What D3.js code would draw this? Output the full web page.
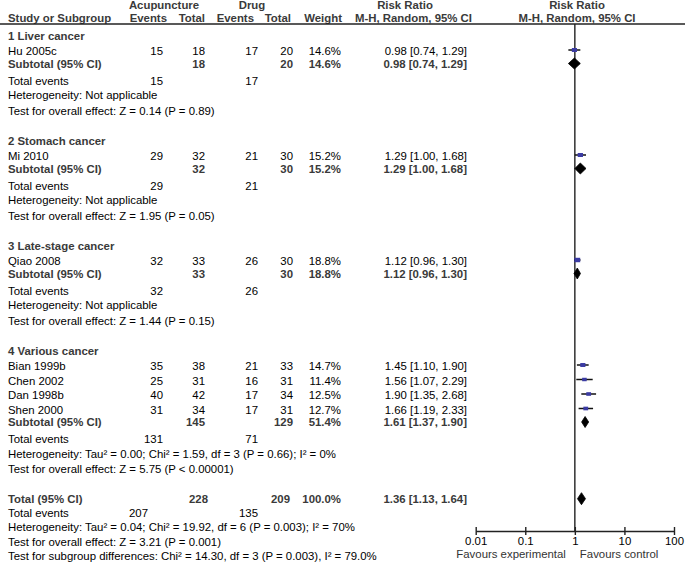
<!DOCTYPE html>
<html>
<head>
<meta charset="utf-8">
<script src="https://cdn.jsdelivr.net/npm/d3@7"></script>
<style>
  html, body { margin: 0; padding: 0; background: #fff; }
  svg { display: block; font-family: "Liberation Sans", Arial, sans-serif; }
</style>
</head>
<body>
<svg id="chart" width="685" height="570"></svg>
<script>
// ---------------- DATA ----------------
const groupNames = ["1 Liver cancer", "2 Stomach cancer", "3 Late-stage cancer", "4 Various cancer"];

const studyNames  = ["Hu 2005c", "Mi 2010", "Qiao 2008", "Bian 1999b", "Chen 2002", "Dan 1998b", "Shen 2000"];
const studyGroup  = [0, 1, 2, 3, 3, 3, 3];
const acuEvents   = [15, 29, 32, 35, 25, 40, 31];
const acuTotal    = [18, 32, 33, 38, 31, 42, 34];
const drugEvents  = [17, 21, 26, 21, 16, 17, 17];
const drugTotal   = [20, 30, 30, 33, 31, 34, 31];
const studyWeight = [14.6, 15.2, 18.8, 14.7, 11.4, 12.5, 12.7];
const studyRR     = [0.98, 1.29, 1.12, 1.45, 1.56, 1.90, 1.66];
const studyLo     = [0.74, 1.00, 0.96, 1.10, 1.07, 1.35, 1.19];
const studyHi     = [1.29, 1.68, 1.30, 1.90, 2.29, 2.68, 2.33];

const subAcuTotal   = [18, 32, 33, 145];
const subDrugTotal  = [20, 30, 30, 129];
const subAcuEvents  = [15, 29, 32, 131];
const subDrugEvents = [17, 21, 26, 71];
const subWeight     = [14.6, 15.2, 18.8, 51.4];
const subRR         = [0.98, 1.29, 1.12, 1.61];
const subLo         = [0.74, 1.00, 0.96, 1.37];
const subHi         = [1.29, 1.68, 1.30, 1.90];
const subHeterogeneity = ["Not applicable", "Not applicable", "Not applicable",
  "Tau\u00B2 = 0.00; Chi\u00B2 = 1.59, df = 3 (P = 0.66); I\u00B2 = 0%"];
const subOverall = ["Z = 0.14 (P = 0.89)", "Z = 1.95 (P = 0.05)", "Z = 1.44 (P = 0.15)", "Z = 5.75 (P < 0.00001)"];

const totalAcuTotal = 228, totalDrugTotal = 209, totalWeight = 100.0;
const totalAcuEvents = 207, totalDrugEvents = 135;
const totalRR = 1.36, totalLo = 1.13, totalHi = 1.64;
const totalHeterogeneity = "Tau\u00B2 = 0.04; Chi\u00B2 = 19.92, df = 6 (P = 0.003); I\u00B2 = 70%";
const totalOverall = "Z = 3.21 (P = 0.001)";
const subgroupDiff = "Chi\u00B2 = 14.30, df = 3 (P = 0.003), I\u00B2 = 79.0%";

const axisTicks = [0.01, 0.1, 1, 10, 100];
const favoursLeft = "Favours experimental";
const favoursRight = "Favours control";

// ---------------- LAYOUT ----------------
const svg = d3.select("#chart");
svg.append("rect").attr("width", 685).attr("height", 570).attr("fill", "#fff");

const FS = 11.4;
const boldCol = "#3a3a3a";
const xText = 8;
const colAcuEv = 163, colAcuTot = 205, colDrugEv = 258, colDrugTot = 293, colWeight = 341, colRR = 467;
const x = d3.scaleLog().domain([0.01, 100]).range([475.7, 674]);
const axisY = 531;
const headerLineY = 24;

function fmtRR(r, l, h) { return r.toFixed(2) + " [" + l.toFixed(2) + ", " + h.toFixed(2) + "]"; }

function txt(xp, yp, s, opts = {}) {
  return svg.append("text")
    .attr("x", xp).attr("y", yp)
    .attr("font-size", opts.size || FS)
    .attr("font-weight", opts.bold ? "bold" : "normal")
    .attr("fill", opts.fill || (opts.bold ? boldCol : "#000"))
    .attr("text-anchor", opts.anchor || "start")
    .text(s);
}

// Header
txt(164, 8.5, "Acupuncture", {bold: true, anchor: "middle"});
txt(252, 8.5, "Drug", {bold: true, anchor: "middle"});
txt(405, 8.5, "Risk Ratio", {bold: true, anchor: "middle"});
txt(577, 8.5, "Risk Ratio", {bold: true, anchor: "middle"});
const h2 = 21.5;
txt(xText, h2, "Study or Subgroup", {bold: true});
txt(167, h2, "Events", {bold: true, anchor: "end"});
txt(205, h2, "Total", {bold: true, anchor: "end"});
txt(254, h2, "Events", {bold: true, anchor: "end"});
txt(291, h2, "Total", {bold: true, anchor: "end"});
txt(342, h2, "Weight", {bold: true, anchor: "end"});
txt(472, h2, "M-H, Random, 95% CI", {bold: true, anchor: "end"});
txt(577, h2, "M-H, Random, 95% CI", {bold: true, anchor: "middle"});

svg.append("line").attr("x1", 0).attr("x2", 685)
  .attr("y1", headerLineY).attr("y2", headerLineY)
  .attr("stroke", "#222").attr("stroke-width", 1.4);

// Vertical line of no effect
svg.append("line").attr("x1", x(1)).attr("x2", x(1))
  .attr("y1", headerLineY).attr("y2", axisY)
  .attr("stroke", "#222").attr("stroke-width", 1.4);

// Rows
const markers = svg.append("g");
function drawStudyMarker(i, y) {
  const cy = y - 5;
  markers.append("line")
    .attr("x1", x(studyLo[i])).attr("x2", x(studyHi[i]))
    .attr("y1", cy).attr("y2", cy)
    .attr("stroke", "#111").attr("stroke-width", 1.5);
  const s = 1.35 * Math.sqrt(studyWeight[i]);
  markers.append("rect")
    .attr("x", x(studyRR[i]) - s / 2).attr("y", cy - s * 0.38)
    .attr("width", s).attr("height", s * 0.76)
    .attr("fill", "#3b3ba3");
}
function drawDiamond(r, l, h, y, hh) {
  const cy = y - 4;
  const pts = [[x(l), cy], [x(r), cy - hh / 2], [x(h), cy], [x(r), cy + hh / 2]];
  markers.append("path").attr("d", "M" + pts.map(p => p.join(",")).join("L") + "Z")
    .attr("fill", "#000").attr("stroke", "#000").attr("stroke-width", 0.8);
}

let y = 39.5;
groupNames.forEach((g, gi) => {
  txt(xText, y, g, {bold: true});
  y += 15.5;
  const ids = studyGroup.map((gg, i) => gg === gi ? i : -1).filter(i => i >= 0);
  ids.forEach((i, k) => {
    txt(xText, y, studyNames[i]);
    txt(colAcuEv, y, acuEvents[i], {anchor: "end"});
    txt(colAcuTot, y, acuTotal[i], {anchor: "end"});
    txt(colDrugEv, y, drugEvents[i], {anchor: "end"});
    txt(colDrugTot, y, drugTotal[i], {anchor: "end"});
    txt(colWeight, y, studyWeight[i].toFixed(1) + "%", {anchor: "end"});
    txt(colRR, y, fmtRR(studyRR[i], studyLo[i], studyHi[i]), {anchor: "end"});
    drawStudyMarker(i, y);
    y += (k === ids.length - 1) ? 12.5 : 14.5;
  });
  // subtotal
  txt(xText, y, "Subtotal (95% CI)", {bold: true});
  txt(colAcuTot, y, subAcuTotal[gi], {bold: true, anchor: "end"});
  txt(colDrugTot, y, subDrugTotal[gi], {bold: true, anchor: "end"});
  txt(colWeight, y, subWeight[gi].toFixed(1) + "%", {bold: true, anchor: "end"});
  txt(colRR, y, fmtRR(subRR[gi], subLo[gi], subHi[gi]), {bold: true, anchor: "end"});
  drawDiamond(subRR[gi], subLo[gi], subHi[gi], y, 11);
  y += 17;
  txt(xText, y, "Total events");
  txt(colAcuEv, y, subAcuEvents[gi], {anchor: "end"});
  txt(colDrugEv, y, subDrugEvents[gi], {anchor: "end"});
  y += 14.5;
  txt(xText, y, "Heterogeneity: " + subHeterogeneity[gi]);
  y += 15.5;
  txt(xText, y, "Test for overall effect: " + subOverall[gi]);
  y += 30;
});

// Total
y -= 0.3;
txt(xText, y, "Total (95% CI)", {bold: true});
txt(208, y, totalAcuTotal, {bold: true, anchor: "end"});
txt(290, y, totalDrugTotal, {bold: true, anchor: "end"});
txt(colWeight, y, totalWeight.toFixed(1) + "%", {bold: true, anchor: "end"});
txt(colRR, y, fmtRR(totalRR, totalLo, totalHi), {bold: true, anchor: "end"});
drawDiamond(totalRR, totalLo, totalHi, y, 12);
y += 14;
txt(xText, y, "Total events");
txt(148, y, totalAcuEvents, {anchor: "end"});
txt(colDrugEv, y, totalDrugEvents, {anchor: "end"});
y += 14.5;
txt(xText, y, "Heterogeneity: " + totalHeterogeneity);
y += 15;
txt(xText, y, "Test for overall effect: " + totalOverall);
y += 14;
txt(xText, y, "Test for subgroup differences: " + subgroupDiff);

// Axis
const axis = d3.axisBottom(x).tickValues(axisTicks).tickFormat(d => String(d)).tickSizeOuter(0).tickSizeInner(4);
const ag = svg.append("g").attr("transform", `translate(0,${axisY})`).call(axis);
ag.select(".domain").attr("stroke", "#222").attr("stroke-width", 1.4);
ag.selectAll(".tick line").attr("y1", -4).attr("y2", 4).attr("stroke", "#222").attr("stroke-width", 1.4);
ag.selectAll(".tick text").attr("y", 6).attr("font-size", FS)
  .attr("font-family", "'Liberation Sans', Arial, sans-serif").attr("fill", "#000");

txt(x(1) - 9, 557.5, favoursLeft, {anchor: "end", fill: "#333"});
txt(x(1) + 5, 557.5, favoursRight, {anchor: "start", fill: "#333"});
</script>
</body>
</html>
